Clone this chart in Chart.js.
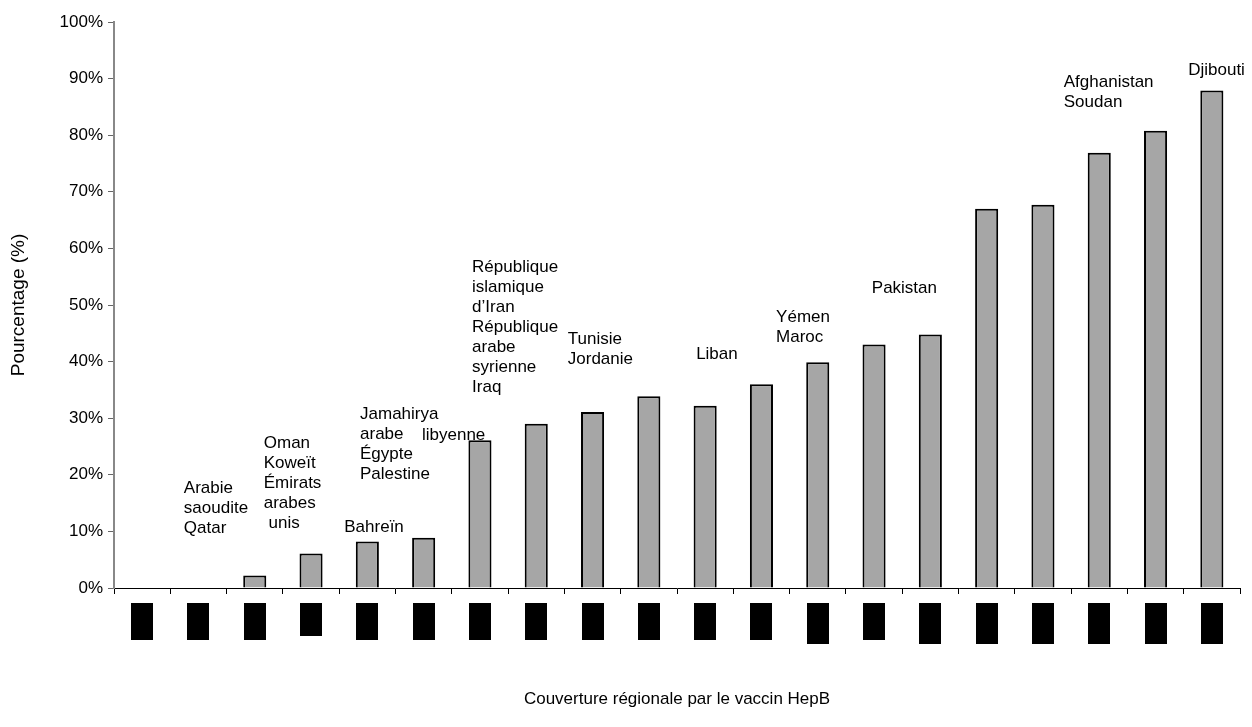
<!DOCTYPE html>
<html>
<head>
<meta charset="utf-8">
<script src="https://cdn.jsdelivr.net/npm/chart.js@4"></script>
<style>
  html, body { margin: 0; padding: 0; background: #fff; }
  #wrap { width: 1252px; height: 727px; }
</style>
</head>
<body>
<div id="wrap"><canvas id="hepb"></canvas></div>
<script>
// categories (the country names under the bars are blacked out in the original)
var categories = ['1', '2', '3', '4', '5', '6', '7', '8', '9', '10',
                  '11', '12', '13', '14', '15', '16', '17', '18', '19', '20'];
// coverage in percent
var coverage = [0, 0, 2.2, 6.1, 8.2, 8.9, 26.1, 29, 31.1, 33.9,
                32.2, 36, 39.9, 43, 44.8, 67, 67.7, 76.9, 80.8, 87.9];
// country groups written above the bars
var groupText = [
    ['Arabie', 'saoudite', 'Qatar'],
    ['Oman', 'Koweït', 'Émirats', 'arabes', ' unis'],
    ['Bahreïn'],
    ['Jamahirya', 'arabe', 'Égypte', 'Palestine'],
    ['libyenne'],
    ['République', 'islamique', 'd\u2019Iran', 'République', 'arabe', 'syrienne', 'Iraq'],
    ['Tunisie', 'Jordanie'],
    ['Liban'],
    ['Yémen', 'Maroc'],
    ['Pakistan'],
    ['Afghanistan', 'Soudan'],
    ['Djibouti']
];
var yTitle = 'Pourcentage (%)';
var xTitle = 'Couverture régionale par le vaccin HepB';

var FONT = "'Liberation Sans', Arial, sans-serif";

// where each text block sits: category position of its left edge, value of its first line
var groupPos = [
    [0.74, 17.6], [2.16, 25.5], [3.59, 10.7], [3.87, 30.6], [4.97, 26.9],
    [5.86, 56.6], [7.56, 43.9], [9.84, 41.2], [11.26, 47.9], [12.96, 52.9],
    [16.37, 89.4], [18.58, 91.5]
];

var groupLabels = {
    id: 'groupLabels',
    afterDatasetsDraw: function (chart) {
        var ctx = chart.ctx;
        var xs = chart.scales.x, ys = chart.scales.y;
        ctx.save();
        ctx.fillStyle = '#000';
        ctx.font = '17px ' + FONT;
        ctx.textAlign = 'left';
        ctx.textBaseline = 'middle';
        groupText.forEach(function (lines, g) {
            var x = xs.getPixelForValue(groupPos[g][0]);
            var y = ys.getPixelForValue(groupPos[g][1]);
            lines.forEach(function (t, k) {
                ctx.fillText(t, x, y + k * 20);
            });
        });
        ctx.restore();
    }
};

// black boxes that hide the category names
var hiddenNames = {
    id: 'hiddenNames',
    afterDraw: function (chart) {
        var ctx = chart.ctx;
        var xs = chart.scales.x;
        var deeper = [12, 14, 15, 16, 17, 18, 19];
        ctx.save();
        ctx.fillStyle = '#000';
        categories.forEach(function (c, i) {
            var cx = xs.getPixelForValue(i);
            var top = xs.top + 15;
            var bottom = xs.top + 52;
            if (deeper.indexOf(i) >= 0) bottom += 4;
            if (i === 3) bottom -= 4;
            ctx.fillRect(Math.round(cx - 11), top, 22, bottom - top);
        });
        ctx.restore();
    }
};

var ctx = document.getElementById('hepb').getContext('2d');
var chart = new Chart(ctx, {
    type: 'bar',
    data: {
        labels: categories,
        datasets: [
            {
                label: 'Pourcentage',
                data: coverage,
                backgroundColor: '#a6a6a6',
                borderColor: '#000',
                borderWidth: 2,
                borderSkipped: 'bottom',
                categoryPercentage: 1,
                barPercentage: 0.41
            }
        ]
    },
    options: {
        responsive: true,
        maintainAspectRatio: false,
        animation: false,
        layout: {
            padding: { left: 0, right: 12, top: 22, bottom: 0 }
        },
        plugins: {
            legend: { display: false },
            tooltip: { enabled: false }
        },
        scales: {
            x: {
                afterFit: function (scale) { scale.height = 139; },
                grid: {
                    drawOnChartArea: false,
                    tickLength: 6,
                    color: '#000',
                    lineWidth: 1
                },
                border: { color: '#000', width: 1 },
                ticks: {
                    callback: function () { return ''; }
                },
                title: {
                    display: true,
                    text: xTitle,
                    color: '#000',
                    font: { family: FONT, size: 17 },
                    padding: { top: 0, bottom: 17 }
                }
            },
            y: {
                min: 0,
                max: 100,
                afterFit: function (scale) { scale.width = 114; },
                grid: {
                    drawOnChartArea: false,
                    tickLength: 6,
                    color: '#666',
                    lineWidth: 1
                },
                border: { color: '#888', width: 2 },
                ticks: {
                    stepSize: 10,
                    padding: 5,
                    color: '#000',
                    font: { family: FONT, size: 17 },
                    callback: function (v) { return v + '%'; }
                },
                title: {
                    display: true,
                    text: yTitle,
                    color: '#000',
                    font: { family: FONT, size: 19 },
                    padding: { top: 7, bottom: 0 }
                }
            }
        }
    },
    plugins: [groupLabels, hiddenNames]
});
</script>
</body>
</html>
